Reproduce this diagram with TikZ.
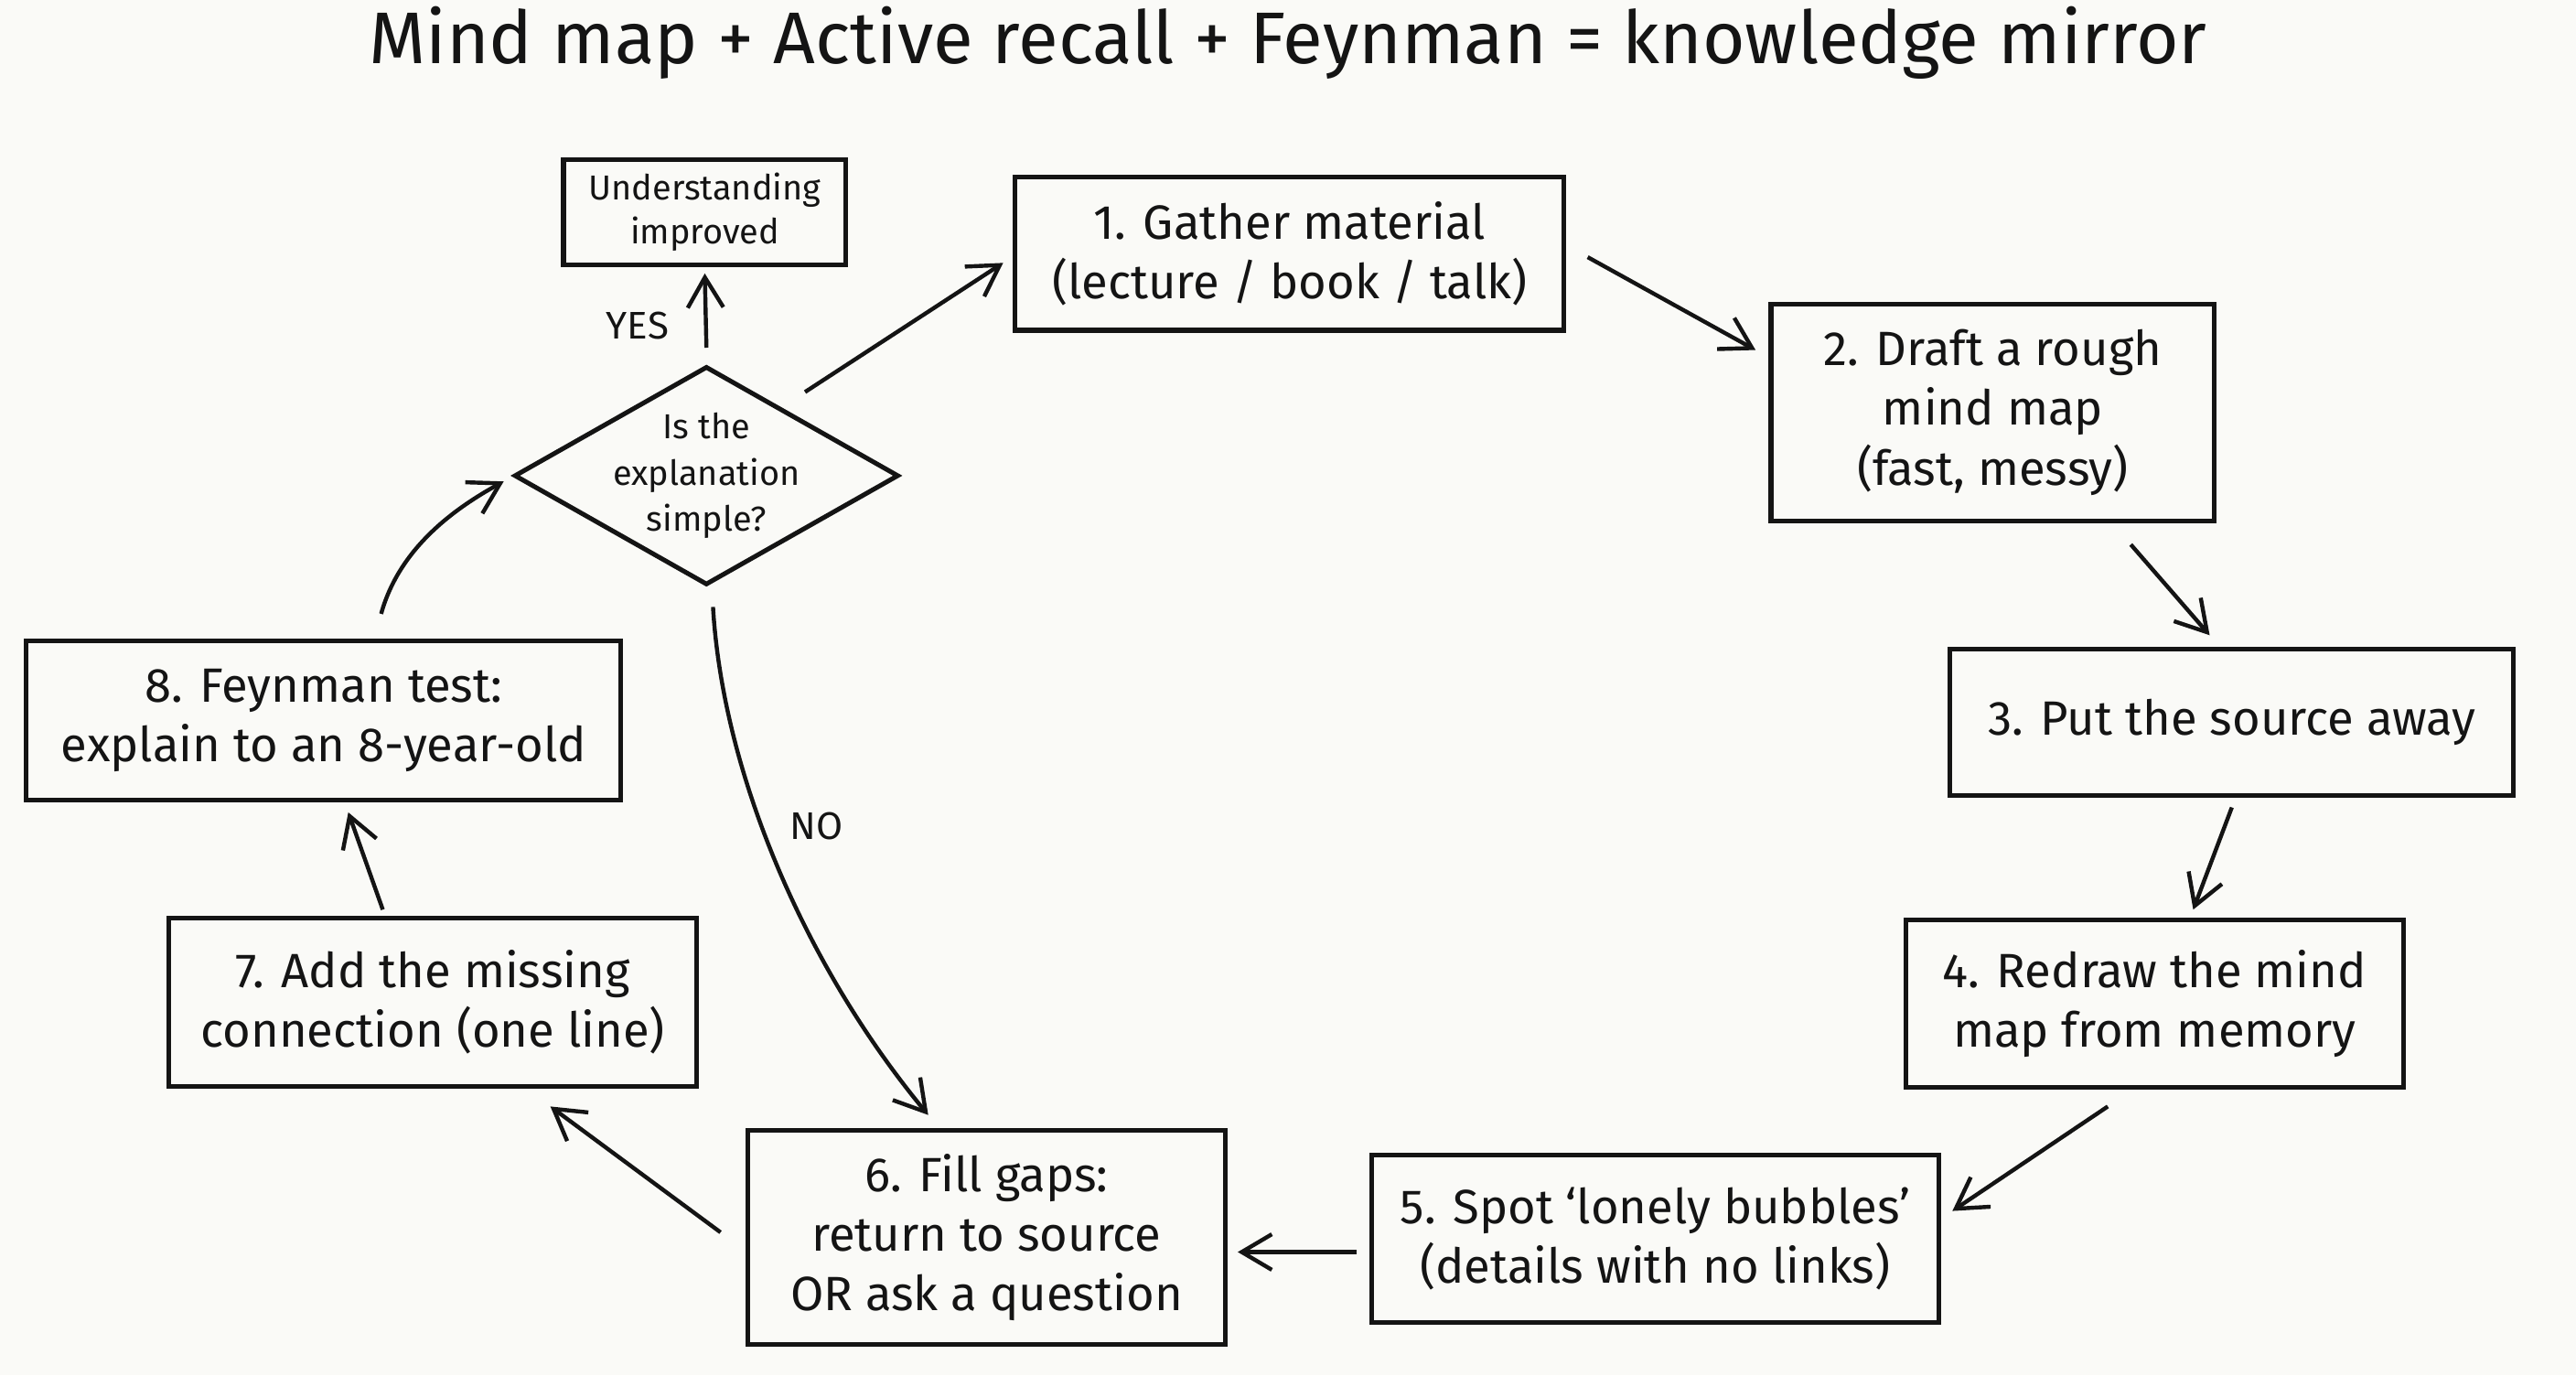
\documentclass[tikz,border=0pt]{standalone}
\usepackage{fontspec}
\setmainfont{Fira Sans}
\usetikzlibrary{shapes.geometric,arrows.meta,calc}
\definecolor{bgc}{HTML}{FAFAF7}
\definecolor{ink}{HTML}{141414}
\begin{document}
\begin{tikzpicture}[x=0.03cm,y=-0.03cm,
  box/.style={draw=ink, line width=2.4pt, align=center, inner sep=0pt, text=ink,
    font=\fontsize{25}{31}\selectfont},
  smallbox/.style={box, font=\fontsize{18}{23}\selectfont},
  dtext/.style={align=center, text=ink, font=\fontsize{18}{24}\selectfont},
  lbl/.style={text=ink, font=\fontsize{20}{24}\selectfont},
  arr/.style={draw=ink, line width=2.1pt, -{Straight Barb[length=5.5mm,width=6.5mm]}}]
\fill[bgc] (0,0) rectangle (1568,837);
\useasboundingbox (0,0) rectangle (1568,837);

\node[text=ink, font=\fontsize{38}{42}\selectfont] (T) at (784,26) {Mind map + Active recall + Feynman = knowledge mirror};

\node[smallbox, minimum width=5.16cm, minimum height=1.92cm] (U) at (429,129) {Understanding\\improved};
\node[box, minimum width=10.02cm, minimum height=2.79cm] (B1) at (785,154.5) {1. Gather material\\(lecture / book / talk)};
\node[box, minimum width=8.1cm, minimum height=3.96cm] (B2) at (1213,251) {2. Draft a rough\\mind map\\(fast, messy)};
\node[box, minimum width=10.29cm, minimum height=2.67cm] (B3) at (1358.5,439.5) {3. Put the source away};
\node[box, minimum width=9.09cm, minimum height=3.06cm] (B4) at (1311.5,611) {4. Redraw the mind\\map from memory};
\node[box, minimum width=10.35cm, minimum height=3.06cm] (B5) at (1007.5,754) {5. Spot ‘lonely bubbles’\\(details with no links)};
\node[box, minimum width=8.73cm, minimum height=3.9cm] (B6) at (600.5,753) {6. Fill gaps:\\return to source\\OR ask a question};
\node[box, minimum width=9.63cm, minimum height=3.06cm] (B7) at (263.5,610) {7. Add the missing\\connection (one line)};
\node[box, minimum width=10.86cm, minimum height=2.91cm] (B8) at (197,438.5) {8. Feynman test:\\explain to an 8-year-old};
\node[diamond, draw=ink, line width=2.4pt, inner sep=0pt, minimum width=7.02cm, minimum height=3.99cm,
  label={[dtext]center:{Is the\\explanation\\simple?}}] (D) at (430,289.5) {};

\draw[arr] ($(D.north)+(0,-10)$) -- ($(U.south)+(0,4)$);
\node[lbl] (yes) at (388,198) {YES};
\draw[arr] ($(D.north)+(60,17)$) -- ($(B1.west)+(-6,5.5)$);
\draw[arr] ($(B1.east)+(13,2)$) -- ($(B2.west)+(-8,-38)$);
\draw[arr] ($(B2.south)+(84,13)$) -- ($(B3.north)+(-13.5,-7)$);
\draw[arr] ($(B3.south)+(0,6)$) -- ($(B4.north)+(23.5,-5)$);
\draw[arr] ($(B4.south)+(-28.5,10)$) -- ($(B5.east)+(7,-17)$);
\draw[arr] ($(B5.west)+(-8,8)$) -- ($(B6.east)+(6,9)$);
\draw[arr] ($(B6.west)+(-15,-3)$) -- ($(B7.south)+(71.5,11)$);
\draw[arr] ($(B7.north)+(-30.5,-4)$) -- ($(B8.south)+(15,6)$);
\draw[arr] ($(B8.north)+(35,-15)$) .. controls ($(B8.north)+(46,-55)$) and ($(D.west)+(-35,20)$) .. ($(D.west)+(-5,3.5)$);
\draw[arr] ($(D.south)+(4,12)$) .. controls ($(D.south)+(10,114)$) and ($(B6.north)+(-110,-98)$) .. ($(B6.north)+(-35.5,-8)$);
\node[lbl] (no) at (497,503) {NO};
\end{tikzpicture}
\end{document}
